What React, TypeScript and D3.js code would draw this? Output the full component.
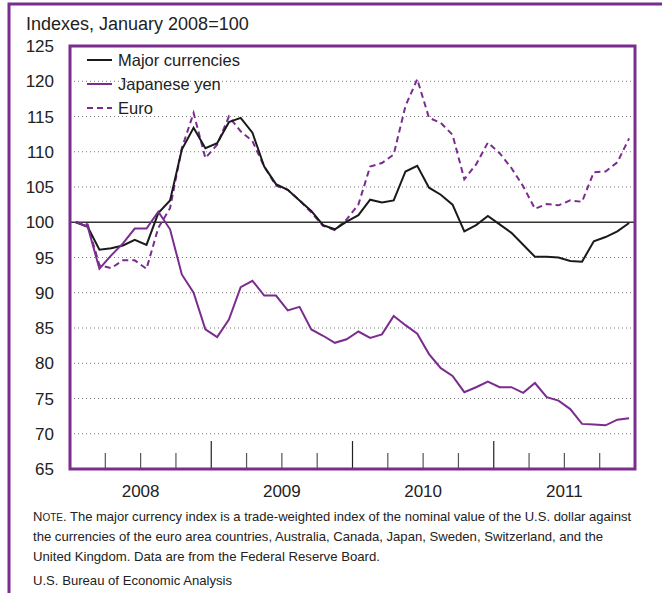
import { useEffect, useRef } from "react";
import * as d3 from "d3";

const years = ["2008", "2009", "2010", "2011"];
const yTicks = [65, 70, 75, 80, 85, 90, 95, 100, 105, 110, 115, 120, 125];

// monthly, Jan 2008 - Dec 2011 (Jan 2008 = 100)
const majorCurrencies = [
  100, 99.35, 96.1, 96.3, 96.7, 97.5, 96.8, 101.3, 103.1, 110.3, 113.4, 110.5,
  111.2, 114.2, 114.8, 112.7, 107.9, 105.4, 104.6, 103.1, 101.6, 99.6, 99.0, 100.1,
  101.0, 103.2, 102.8, 103.1, 107.2, 108.0, 104.9, 103.9, 102.5, 98.7, 99.6, 100.9,
  99.7, 98.5, 96.8, 95.1, 95.1, 95.0, 94.5, 94.4, 97.3, 97.9, 98.7, 99.9,
];
const japaneseYen = [
  100, 99.4, 93.4, 95.3, 97.0, 99.1, 99.1, 101.5, 99.0, 92.6, 90.0, 84.8,
  83.7, 86.2, 90.8, 91.7, 89.6, 89.6, 87.5, 88.0, 84.8, 83.9, 82.9, 83.4,
  84.5, 83.6, 84.1, 86.7, 85.4, 84.2, 81.3, 79.3, 78.2, 75.9, 76.6, 77.4,
  76.6, 76.6, 75.8, 77.2, 75.2, 74.7, 73.5, 71.4, 71.3, 71.2, 72.0, 72.2,
];
const euro = [
  100, 99.7, 93.9, 93.5, 94.6, 94.6, 93.4, 99.2, 102.0, 110.5, 115.5, 109.1,
  111.0, 115.0, 112.9, 111.5, 107.9, 105.2, 104.6, 103.1, 101.4, 99.5, 98.9, 100.4,
  102.5, 107.9, 108.4, 109.6, 116.5, 120.3, 114.8, 114.1, 112.4, 106.1, 108.2, 111.3,
  109.8, 107.7, 105.1, 101.9, 102.6, 102.4, 103.1, 102.9, 107.1, 107.2, 108.5, 111.9,
];

const legendItems = ["Major currencies", "Japanese yen", "Euro"];

const noteLines = [
  ". The major currency index is a trade-weighted index of the nominal value of the U.S. dollar against",
  "the currencies of the euro area countries, Australia, Canada, Japan, Sweden, Switzerland, and the",
  "United Kingdom. Data are from the Federal Reserve Board.",
];
const source = "U.S. Bureau of Economic Analysis";

const PURPLE = "#7b2c8f";
const INK = "#222";

const App = () => {
  const ref = useRef<SVGSVGElement>(null);

  useEffect(() => {
    const w = 662;
    const h = 593;
    const left = 70;
    const right = 635;
    const top = 46;
    const bottom = 469;

    const svg = d3
      .select(ref.current)
      .attr("width", w)
      .attr("height", h)
      .style("display", "block")
      .style("background", "#fff")
      .style("font-family", "'Liberation Sans', Arial, Helvetica, sans-serif");

    svg.selectAll("*").remove();

    const nMonths = years.length * 12;
    const x = d3.scaleLinear().domain([0, nMonths]).range([left, right]);
    const y = d3.scaleLinear().domain([65, 125]).range([bottom, top]);

    // outer frame (top + left only)
    svg
      .append("path")
      .attr("d", `M9,${h} V4 H${w}`)
      .attr("fill", "none")
      .attr("stroke", PURPLE)
      .attr("stroke-width", 3);

    svg
      .append("text")
      .attr("x", 26)
      .attr("y", 30)
      .attr("font-size", 18)
      .attr("fill", INK)
      .text("Indexes, January 2008=100");

    // dotted gridlines
    svg
      .append("g")
      .selectAll("line")
      .data(yTicks.filter((d) => d > 65 && d < 125 && d !== 100))
      .join("line")
      .attr("x1", left)
      .attr("x2", right)
      .attr("y1", (d) => y(d))
      .attr("y2", (d) => y(d))
      .attr("stroke", "#777")
      .attr("stroke-width", 1)
      .attr("stroke-dasharray", "1,3");

    svg
      .append("line")
      .attr("x1", left)
      .attr("x2", right)
      .attr("y1", y(100))
      .attr("y2", y(100))
      .attr("stroke", "#333")
      .attr("stroke-width", 1.6);

    // y labels
    svg
      .append("g")
      .selectAll("text")
      .data(yTicks)
      .join("text")
      .attr("x", 54)
      .attr("y", (d) => y(d))
      .attr("dy", "0.36em")
      .attr("text-anchor", "end")
      .attr("font-size", 17)
      .attr("fill", INK)
      .text((d) => d);

    // quarter / year ticks
    const quarterIdx = d3.range(1, nMonths / 3);
    svg
      .append("g")
      .selectAll("line")
      .data(quarterIdx)
      .join("line")
      .attr("x1", (q) => x(q * 3))
      .attr("x2", (q) => x(q * 3))
      .attr("y1", bottom)
      .attr("y2", (q) => (q % 4 === 0 ? bottom - 28 : bottom - 16))
      .attr("stroke", (q) => (q % 4 === 0 ? "#222" : "#555"))
      .attr("stroke-width", 1.2);

    svg
      .append("g")
      .selectAll("text")
      .data(years)
      .join("text")
      .attr("x", (_, i) => x(i * 12 + 6))
      .attr("y", 497)
      .attr("text-anchor", "middle")
      .attr("font-size", 17)
      .attr("fill", INK)
      .text((d) => d);

    const line = d3
      .line<number>()
      .x((_, i) => x(i + 0.5))
      .y((d) => y(d));

    svg
      .append("path")
      .attr("d", line(euro))
      .attr("fill", "none")
      .attr("stroke", PURPLE)
      .attr("stroke-width", 2)
      .attr("stroke-dasharray", "6,4");

    svg
      .append("path")
      .attr("d", line(majorCurrencies))
      .attr("fill", "none")
      .attr("stroke", "#1a1a1a")
      .attr("stroke-width", 2);

    svg
      .append("path")
      .attr("d", line(japaneseYen))
      .attr("fill", "none")
      .attr("stroke", PURPLE)
      .attr("stroke-width", 2);

    // legend
    const legend = svg
      .append("g")
      .selectAll("g")
      .data(legendItems)
      .join("g")
      .attr("transform", (_, i) => `translate(87,${60 + i * 24})`);
    legend
      .append("line")
      .attr("x1", 0)
      .attr("x2", 25)
      .attr("stroke", (_, i) => (i === 0 ? "#1a1a1a" : PURPLE))
      .attr("stroke-width", 2)
      .attr("stroke-dasharray", (_, i) => (i === 2 ? "6,4" : null));
    legend
      .append("text")
      .attr("x", 31)
      .attr("y", 6)
      .attr("font-size", 16.5)
      .attr("fill", INK)
      .text((d) => d);

    // plot frame
    svg
      .append("rect")
      .attr("x", left)
      .attr("y", top)
      .attr("width", right - left)
      .attr("height", bottom - top)
      .attr("fill", "none")
      .attr("stroke", PURPLE)
      .attr("stroke-width", 3);

    // note
    const noteLengths = [598, 570, 347];
    const note = svg.append("g").attr("font-size", 13).attr("fill", INK);
    noteLines.forEach((t, i) => {
      const el = note
        .append("text")
        .attr("x", 33)
        .attr("y", 521 + i * 20)
        .attr("textLength", noteLengths[i])
        .attr("lengthAdjust", "spacingAndGlyphs");
      if (i === 0) {
        el.append("tspan").text("N");
        el.append("tspan").attr("font-size", 10).text("OTE");
      }
      el.append("tspan").text(t);
    });
    note
      .append("text")
      .attr("x", 33)
      .attr("y", 585)
      .attr("textLength", 199)
      .attr("lengthAdjust", "spacingAndGlyphs")
      .text(source);
  }, []);

  return (
    <div style={{ position: "absolute", left: 0, top: 0 }}>
      <svg ref={ref}></svg>
    </div>
  );
};

export default App;
